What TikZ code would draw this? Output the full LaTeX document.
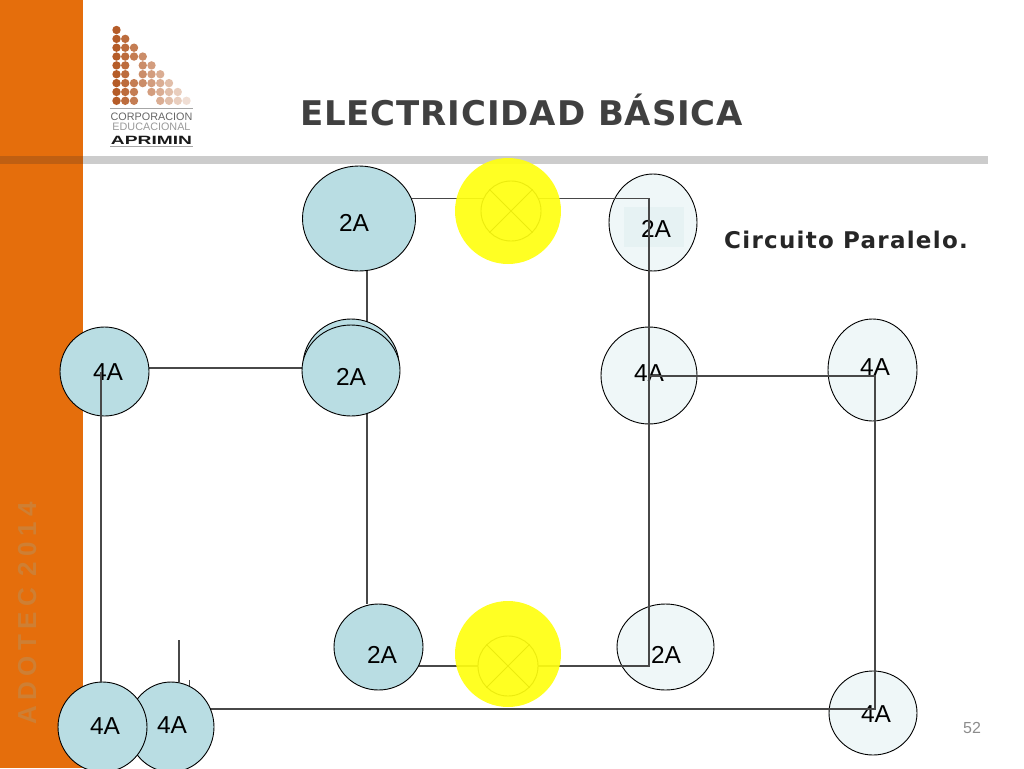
\documentclass[tikz,border=0pt]{standalone}
\usepackage{fontspec}
\setmainfont{Liberation Sans}
\newfontfamily\headfont{DejaVu Sans}
\usetikzlibrary{shapes.geometric,calc}
\pgfdeclarelayer{paleL}\pgfdeclarelayer{wireL}\pgfdeclarelayer{topL}
\pgfsetlayers{paleL,wireL,main,topL}
\definecolor{band}{HTML}{E56E0C}
\definecolor{bandd}{HTML}{BF5F12}
\definecolor{sidec}{HTML}{CE7F34}
\definecolor{teal}{HTML}{B9DDE3}
\definecolor{pale}{HTML}{EFF7F8}
\definecolor{paled}{HTML}{E6F2F3}
\definecolor{wirec}{HTML}{484848}
\definecolor{dotc}{RGB}{181,92,40}
\definecolor{lampy}{HTML}{FFFF10}
\tikzset{
 cur/.style={ellipse,draw=black,line width=.9pt,inner sep=0pt,font=\fontsize{24.5}{28}\selectfont},
 full/.style={cur,fill=teal},
 light/.style={cur,fill=pale},
 sized/.style 2 args={minimum width=#1pt,minimum height=#2pt},
 wire/.style={draw=wirec,line width=1.1pt},
 lamp/.style={circle,draw=black,fill=white,line width=.9pt,minimum size=60pt,inner sep=0pt},
 glow/.style={circle,fill=lampy,opacity=.92,minimum size=106pt,inner sep=0pt},
 tag/.style={inner sep=0pt,font=\fontsize{24.5}{28}\selectfont}
}
\begin{document}
\begin{tikzpicture}[x=1pt,y=-1pt]
\useasboundingbox (0,0) rectangle (1024,768);
\begin{pgfonlayer}{paleL}
\fill[band] (0,0) rectangle (83,768);
\fill[bandd] (0,156) rectangle (83,164);
\fill[gray!40] (83,156) rectangle (988,164);
\node[rotate=90,anchor=base west,inner sep=0pt,text=sidec,font=\fontsize{26}{28}\selectfont\bfseries] (side) at (36,725) {A\hspace{5.5pt}D\hspace{5.5pt}O\hspace{5.5pt}T\hspace{5.5pt}E\hspace{5.5pt}C\hspace{11pt}2\hspace{5.5pt}0\hspace{5.5pt}1\hspace{5.5pt}4};
\foreach \r/\cs in {0/{0},1/{0,1},2/{0,1,2},3/{0,1,2,3},4/{0,1,3,4},5/{0,1,3,4,5},6/{0,1,2,3,4,5,6},7/{0,1,2,4,5,6,7},8/{0,1,2,5,6,7,8}}{
 \foreach \c in \cs {
  \pgfmathsetmacro{\mixv}{100-\c*10}
  \fill[dotc!\mixv!white] ({116.5+\c*8.75},{30+\r*8.85}) circle (4.2pt);
 }
}
\draw[gray!70,line width=.7pt] (110,108.3) -- (193,108.3);
\draw[gray!70,line width=.7pt] (110,146) -- (193,146);
\node[anchor=base,inner sep=0pt,text=black!60,font=\fontsize{10.8}{12}\selectfont] (logoa) at (151.5,120) {CORPORACION};
\node[anchor=base,inner sep=0pt,text=black!40,font=\fontsize{10.8}{12}\selectfont] (logob) at (151.5,130) {EDUCACIONAL};
\node[anchor=base,inner sep=0pt,text=black!90,font=\fontsize{12}{13}\selectfont\bfseries] (logoc) at (151.5,144) {\scalebox{1.6}[1]{APRIMIN}};
\node[anchor=base west,inner sep=0pt,text=black!75,font=\fontsize{34}{36}\headfont\bfseries\addfontfeatures{LetterSpace=2.6}] (title) at (300,125) {ELECTRICIDAD BÁSICA};
\node[anchor=base,inner sep=0pt,text=black!45,font=\fontsize{16}{18}\selectfont] (page) at (972,733) {52};
\node[light,sized={88}{97}] (tr) at (653,222.5) {};
\fill[paled] (624,207) rectangle (684,247);
\node[tag] (trt) at (656,229) {2A};
\node[light,sized={96}{97}] (mr) at (649,375.5) {};
\node[tag] (mrt) at (649,373) {4A};
\node[light,sized={89}{102}] (rr) at (872.5,370) {};
\node[tag] (rrt) at (875,367) {4A};
\node[light,sized={88}{84}] (br) at (873,713) {};
\node[tag] (brt) at (876,714) {4A};
\node[light,sized={97}{86}] (bm) at (665.5,647) {};
\node[tag] (bmt) at (666,655) {2A};
\end{pgfonlayer}
\node[lamp] (lampa) at (511,211) {};
\node[lamp] (lampb) at (508,666) {};
\draw[black,line width=.9pt] (lampa.north east) -- (lampa.south west) (lampa.north west) -- (lampa.south east);
\draw[black,line width=.9pt] (lampb.north east) -- (lampb.south west) (lampb.north west) -- (lampb.south east);
\node[full,sized={113}{105}] (tl) at (359,218.5) {};
\node[tag] (tlt) at (354,223) {2A};
\node[full,sized={96}{93}] (mlb) at (351,365.5) {};
\node[full,sized={98}{91}] (ml) at (351,370.5) {};
\node[tag] (mlt) at (351,377) {2A};
\node[full,sized={89}{89}] (ll) at (104.5,371.5) {};
\node[tag] (llt) at (108,372) {4A};
\node[full,sized={89}{86}] (bl) at (378.5,647) {};
\node[tag] (blt) at (382,655) {2A};
\node[full,sized={86}{90}] (sb) at (171,727) {};
\node[tag] (sbt) at (172,725) {4A};
\node[full,sized={89}{90}] (sa) at (102.5,727) {};
\node[tag] (sat) at (105,726) {4A};
\coordinate (cornerA) at (649,198.5);
\coordinate (cornerB) at (649,666);
\coordinate (cornerC) at (875,376);
\coordinate (cornerD) at (875,709);
\coordinate (stubtop) at (179,640);
\coordinate (leftwire) at (367,300);
\coordinate (farwire) at (101,372);
\coordinate (levelwire) at (200,368);
\begin{pgfonlayer}{wireL}
\draw[wire] (tl.center |- cornerA) -- (cornerA) -- (cornerB) -- (bl.center |- cornerB);
\draw[wire] (leftwire |- tl.south) -- (leftwire |- bl.north);
\draw[wire] (ll.center |- levelwire) -- (ml.center |- levelwire);
\draw[wire] (mr.center |- cornerC) -- (cornerC) -- (cornerD) -- (sb.center |- cornerD);
\draw[wire] (stubtop) -- (stubtop |- sb.north);
\draw[wire,line width=.8pt] (189,680) -- (189,688);
\end{pgfonlayer}
\begin{pgfonlayer}{topL}
\draw[wire] (farwire) -- (farwire |- sa.north);
\node[glow] (glowa) at (508,211) {};
\node[glow] (glowb) at (508,654) {};
\end{pgfonlayer}
\node[anchor=base west,inner sep=0pt,font=\fontsize{23}{26}\headfont\bfseries\addfontfeatures{LetterSpace=5.5},text=black!85] (capt) at (724,248) {Circuito Paralelo.};
\end{tikzpicture}
\end{document}
